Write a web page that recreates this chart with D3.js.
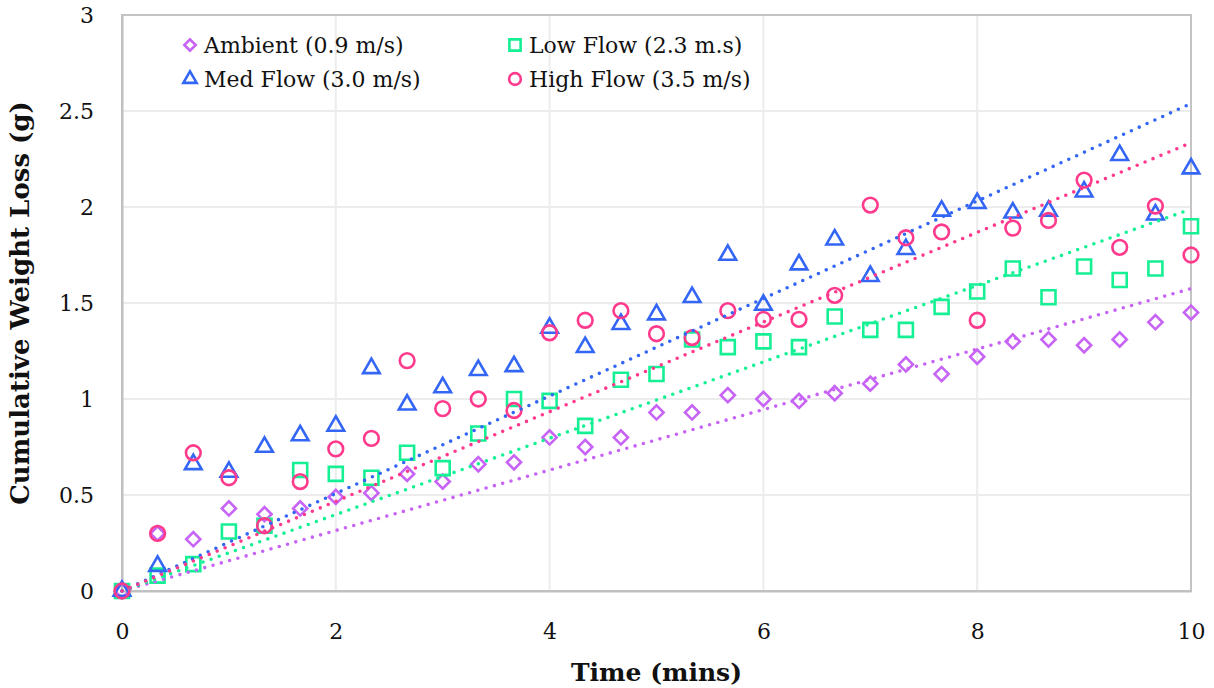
<!DOCTYPE html>
<html>
<head>
<meta charset="utf-8">
<script src="https://cdn.jsdelivr.net/npm/d3@7"></script>
<style>
  body { margin: 0; background: #fff; }
  svg { display: block; font-family: "DejaVu Serif", Georgia, serif; }
</style>
</head>
<body>
<svg id="chart" width="1214" height="688"></svg>
<script>
// time of each reading (mins)
const time = [0, 0.333, 0.667, 1, 1.333, 1.667, 2, 2.333, 2.667, 3, 3.333, 3.667, 4, 4.333, 4.667,
  5, 5.333, 5.667, 6, 6.333, 6.667, 7, 7.333, 7.667, 8, 8.333, 8.667, 9, 9.333, 9.667, 10]

const ambient = [0, 0.30, 0.27, 0.43, 0.40, 0.43, 0.49, 0.51, 0.61, 0.57, 0.66, 0.67, 0.80, 0.75, 0.80,
  0.93, 0.93, 1.02, 1.00, 0.99, 1.03, 1.08, 1.18, 1.13, 1.22, 1.30, 1.31, 1.28, 1.31, 1.40, 1.45]
const lowFlow = [0, 0.08, 0.14, 0.31, 0.34, 0.63, 0.61, 0.59, 0.72, 0.64, 0.82, 1.00, 0.99, 0.86, 1.10,
  1.13, 1.31, 1.27, 1.30, 1.27, 1.43, 1.36, 1.36, 1.48, 1.56, 1.68, 1.53, 1.69, 1.62, 1.68, 1.90]
const medFlow = [0, 0.13, 0.66, 0.62, 0.75, 0.81, 0.86, 1.16, 0.97, 1.06, 1.15, 1.17, 1.37, 1.27, 1.39,
  1.44, 1.53, 1.75, 1.49, 1.70, 1.83, 1.64, 1.78, 1.98, 2.02, 1.97, 1.98, 2.08, 2.27, 1.96, 2.20]
const highFlow = [0, 0.30, 0.72, 0.59, 0.34, 0.57, 0.74, 0.795, 1.20, 0.95, 1.00, 0.94, 1.345, 1.41, 1.46,
  1.34, 1.32, 1.46, 1.415, 1.415, 1.54, 2.01, 1.84, 1.87, 1.41, 1.89, 1.93, 2.14, 1.79, 2.005, 1.75]

const seriesNames = ["Ambient (0.9 m/s)", "Low Flow (2.3 m.s)", "Med Flow (3.0 m/s)", "High Flow (3.5 m/s)"]
const seriesColors = ["#c763f5", "#16f095", "#3466f5", "#ff3a8c"]
const seriesShapes = ["diamond", "square", "triangle", "circle"]

const xTicks = [0, 2, 4, 6, 8, 10]
const yTicks = [0, 0.5, 1, 1.5, 2, 2.5, 3]

const series = [ambient, lowFlow, medFlow, highFlow].map((vals, k) => ({
  name: seriesNames[k],
  color: seriesColors[k],
  shape: seriesShapes[k],
  points: vals.map((v, i) => ({ t: time[i], v: v }))
}))

const svg = d3.select("#chart")
const margin = { top: 15, right: 23, bottom: 97, left: 122 }
const width = 1214 - margin.left - margin.right
const height = 688 - margin.top - margin.bottom

const x = d3.scaleLinear().domain([0, 10]).range([0, width])
const y = d3.scaleLinear().domain([0, 3]).range([height, 0])

const g = svg.append("g").attr("transform", `translate(${margin.left},${margin.top})`)

// gridlines
g.append("g")
  .selectAll("line")
  .data(yTicks.slice(1))
  .join("line")
  .attr("x1", 0).attr("x2", width)
  .attr("y1", d => y(d)).attr("y2", d => y(d))
  .attr("stroke", "#ececec").attr("stroke-width", 2)
g.append("g")
  .selectAll("line")
  .data(xTicks.slice(1))
  .join("line")
  .attr("x1", d => x(d)).attr("x2", d => x(d))
  .attr("y1", 0).attr("y2", height)
  .attr("stroke", "#ececec").attr("stroke-width", 2)

// frame
g.append("rect")
  .attr("x", 0).attr("y", 0)
  .attr("width", width).attr("height", height)
  .attr("fill", "none")
  .attr("stroke", "#c4c4c4").attr("stroke-width", 2)

// axes
const xAxis = g.append("g")
  .attr("transform", `translate(0,${height})`)
  .call(d3.axisBottom(x).tickValues(xTicks).tickSize(0).tickPadding(32).tickFormat(d3.format("d")))
xAxis.select(".domain").attr("stroke", "#bfbfbf").attr("stroke-width", 2)
xAxis.selectAll("text").attr("font-size", 22).attr("fill", "#111").attr("font-family", "DejaVu Serif")

const yAxis = g.append("g")
  .call(d3.axisLeft(y).tickValues(yTicks).tickSize(0).tickPadding(28).tickFormat(d => d))
yAxis.select(".domain").attr("stroke", "#bfbfbf").attr("stroke-width", 2)
yAxis.selectAll("text").attr("font-size", 22).attr("fill", "#111").attr("font-family", "DejaVu Serif")

// markers
function symbolPath(shape) {
  if (shape === "diamond") return d3.symbol().type(d3.symbolSquare).size(100)()
  if (shape === "square") return d3.symbol().type(d3.symbolSquare).size(196)()
  if (shape === "triangle") return d3.symbol().type(d3.symbolTriangle).size(120)()
  return d3.symbol().type(d3.symbolCircle).size(170)()
}

series.forEach(s => {
  g.append("g")
    .selectAll("path")
    .data(s.points)
    .join("path")
    .attr("d", symbolPath(s.shape))
    .attr("transform", d => `translate(${x(d.t)},${y(d.v)})` + (s.shape === "diamond" ? " rotate(45)" : ""))
    .attr("fill", "none")
    .attr("stroke", s.color)
    .attr("stroke-width", 2.6)
})

// linear trendlines through the origin (least squares)
series.forEach(s => {
  const slope = d3.sum(s.points, p => p.t * p.v) / d3.sum(s.points, p => p.t * p.t)
  g.append("line")
    .attr("x1", x(0)).attr("y1", y(0))
    .attr("x2", x(10)).attr("y2", y(slope * 10))
    .attr("stroke", s.color)
    .attr("stroke-width", 3.6)
    .attr("stroke-linecap", "round")
    .attr("stroke-dasharray", "0 8.6")
})

// axis titles
svg.append("text")
  .attr("x", margin.left + width / 2)
  .attr("y", 681)
  .attr("text-anchor", "middle")
  .attr("font-size", 25)
  .attr("font-weight", "bold")
  .attr("fill", "#111")
  .text("Time (mins)")

svg.append("text")
  .attr("transform", `translate(29,${margin.top + height / 2}) rotate(-90)`)
  .attr("text-anchor", "middle")
  .attr("font-size", 26)
  .attr("font-weight", "bold")
  .attr("fill", "#111")
  .text("Cumulative Weight Loss (g)")

// legend
const legendPos = [[190, 45], [515, 45], [190, 79], [515, 79]]
const legend = svg.append("g")
series.forEach((s, k) => {
  const item = legend.append("g").attr("transform", `translate(${legendPos[k][0]},${legendPos[k][1]})`)
  const scale = 0.8
  item.append("path")
    .attr("d", symbolPath(s.shape))
    .attr("transform", `scale(${scale})` + (s.shape === "diamond" ? " rotate(45)" : ""))
    .attr("fill", "none")
    .attr("stroke", s.color)
    .attr("stroke-width", 2.6 / scale)
  item.append("text")
    .attr("x", 14)
    .attr("y", 8)
    .attr("font-size", 22)
    .attr("fill", "#111")
    .text(s.name)
})
</script>
</body>
</html>
